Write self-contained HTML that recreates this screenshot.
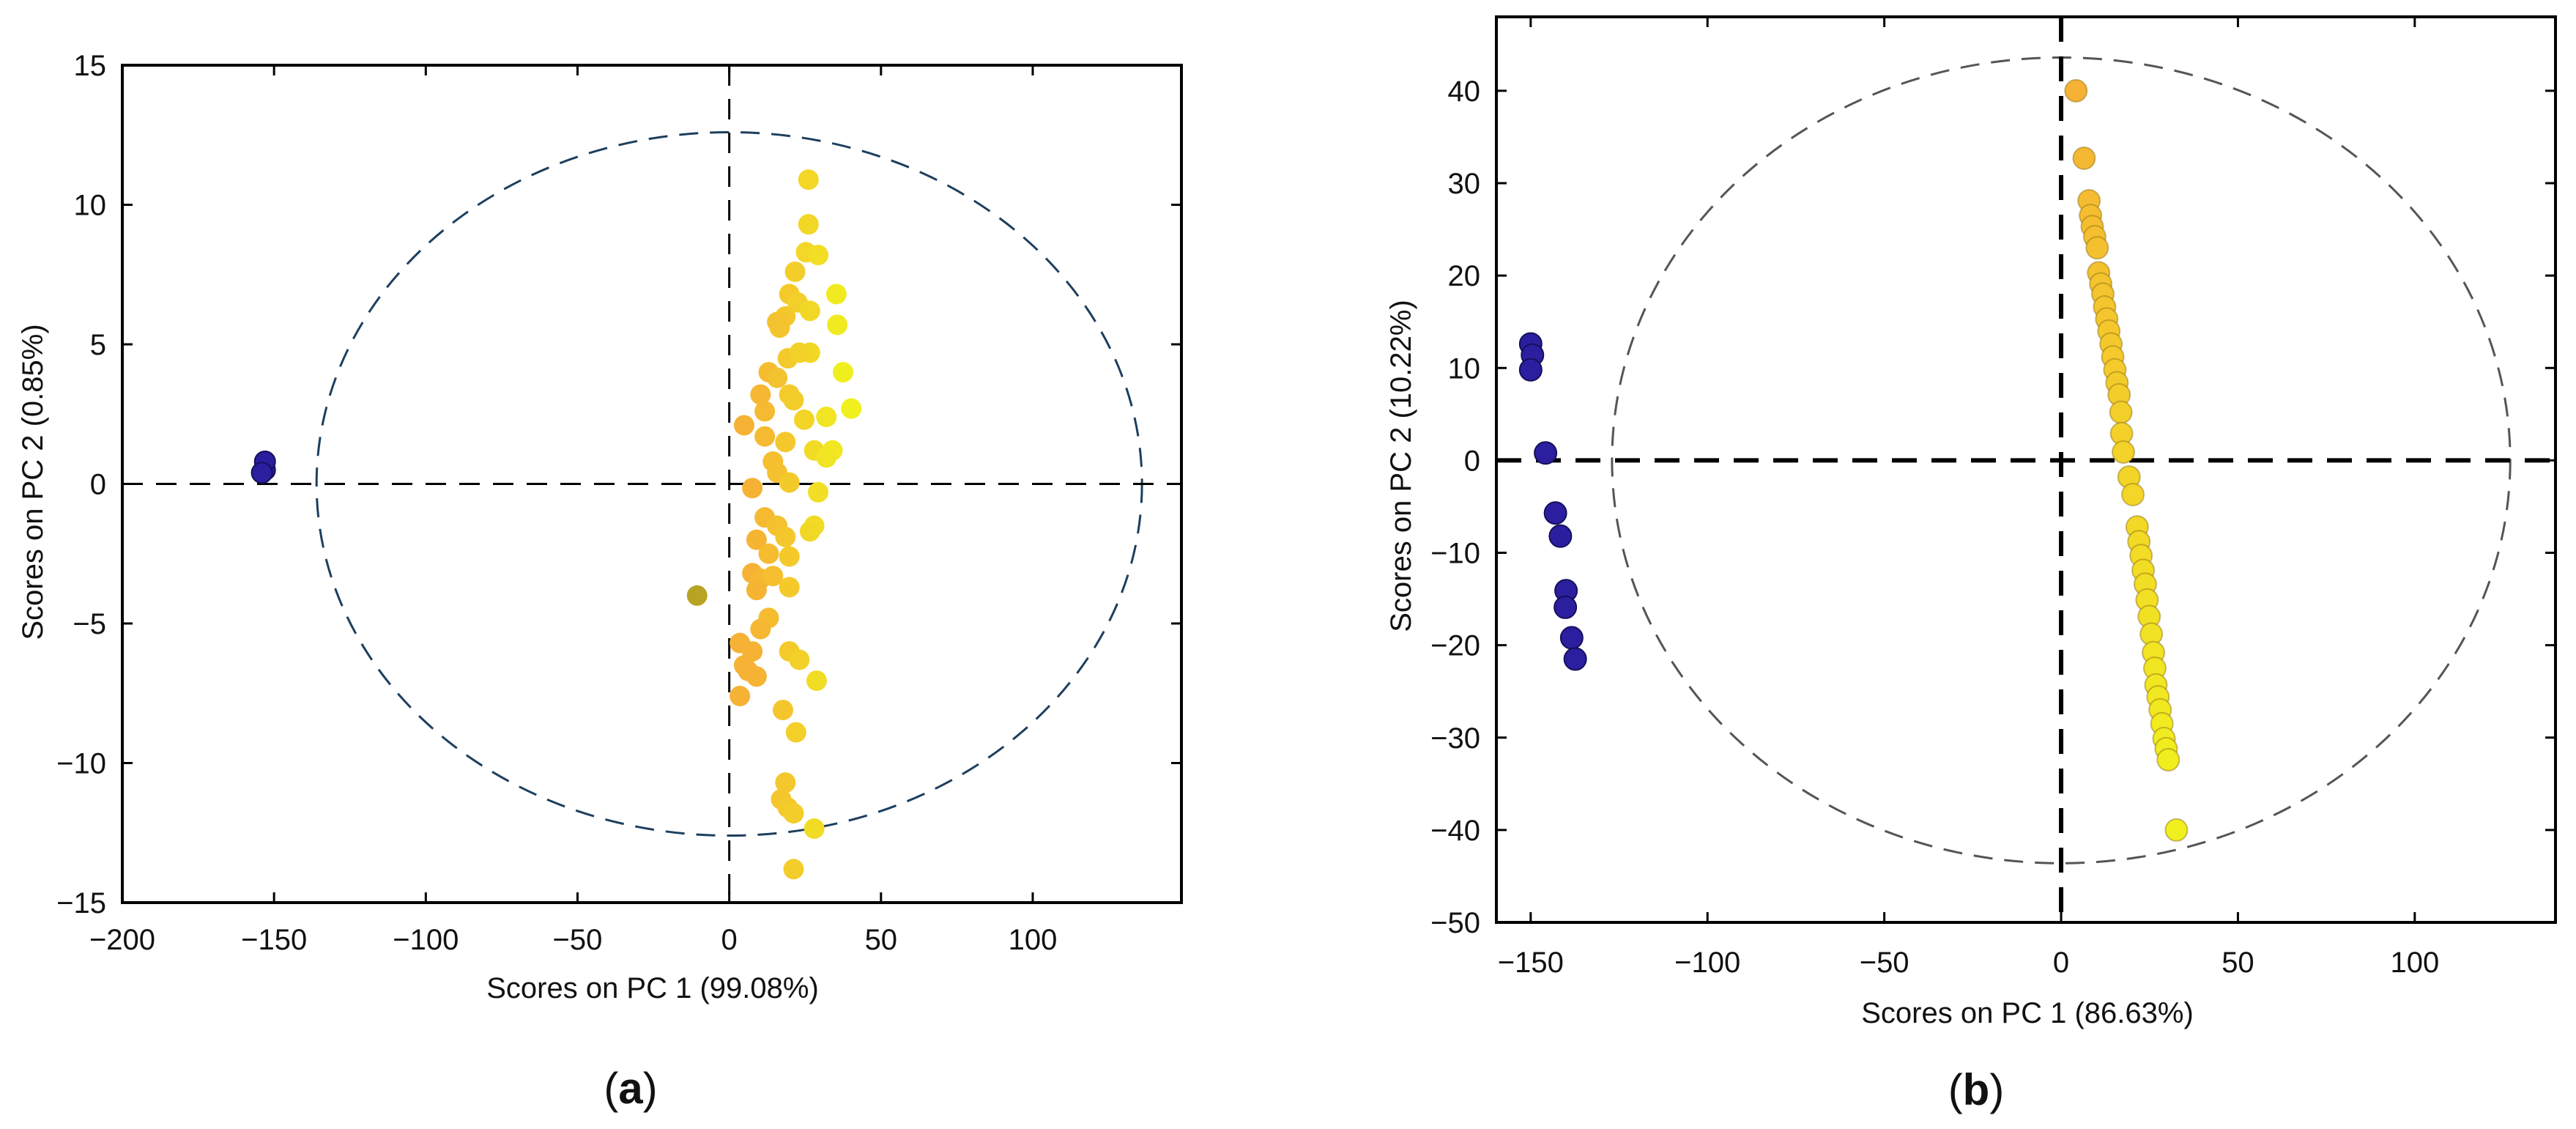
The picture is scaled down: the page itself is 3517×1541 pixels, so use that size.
<!DOCTYPE html>
<html><head><meta charset="utf-8"><style>
html,body{margin:0;padding:0;background:#fff;}
svg{display:block;}
text{font-family:"Liberation Sans",sans-serif;fill:#111;}
</style></head><body>
<svg id="fig" width="3517" height="1541" viewBox="0 0 3517 1541" xmlns="http://www.w3.org/2000/svg">
<g id="pa"></g>
<g id="pb"></g>
</svg>
<script>
// ---- Panel A data ----
const aXTicks = [-200,-150,-100,-50,0,50,100];
const aYTicks = [-15,-10,-5,0,5,10,15];
const aBlueX = [-153,-153,-154];
const aBlueY = [0.5,0.8,0.4];
const aOliveX = [-10.6];
const aOliveY = [-4.0];
const aSampleX = [26.1,26.1,25.3,29.3,21.7,19.8,22.5,18.5,16.6,15.8,26.6,35.3,35.6,26.6,19.3,23.1,13,15.8,37.5,40.2,10.3,19.8,21.2,11.7,24.7,32,4.9,11.7,18.5,14.4,15.8,19.8,7.6,28,34,32,29.3,11.7,15.8,28,26.6,18.5,9,13,19.8,7.6,10.3,14.4,9,19.8,13,10.3,3.5,7.6,4.9,9,6.2,19.8,23.1,28.8,3.5,17.7,22,18.5,17.1,19.3,21.2,28,21.2];
const aSampleY = [10.9,9.3,8.3,8.2,7.6,6.8,6.5,6.0,5.6,5.8,6.2,6.8,5.7,4.7,4.5,4.7,4.0,3.8,4.0,2.7,3.2,3.2,3.0,2.6,2.3,2.4,2.1,1.7,1.5,0.8,0.4,0.05,-0.15,1.2,1.2,0.95,-0.3,-1.2,-1.5,-1.5,-1.7,-1.9,-2.0,-2.5,-2.6,-3.2,-3.4,-3.3,-3.8,-3.7,-4.8,-5.2,-5.7,-6.0,-6.5,-6.9,-6.7,-6.0,-6.3,-7.05,-7.6,-8.1,-8.9,-10.7,-11.3,-11.6,-11.8,-12.35,-13.8];
// ---- Panel B data ----
const bXTicks = [-150,-100,-50,0,50,100];
const bYTicks = [-50,-40,-30,-20,-10,0,10,20,30,40];
const bBlueX = [-150,-149.5,-150,-145.8,-143,-141.6,-140,-140.2,-138.4,-137.4];
const bBlueY = [12.6,11.4,9.8,0.8,-5.7,-8.2,-14.1,-15.9,-19.2,-21.5];
const bSampleX = [4.2,6.5,7.9,8.3,8.8,9.5,10.2,10.6,11.2,11.8,12.3,12.9,13.5,14.1,14.6,15.2,15.8,16.4,16.9,17.1,17.6,19.2,20.3,21.5,22,22.6,23.2,23.8,24.3,24.9,25.5,26.1,26.5,26.8,27.4,28,28.5,29.1,29.7,30.3,32.6];
const bSampleY = [40,32.7,28.1,26.5,25.3,24.2,23,20.3,19.1,18,16.6,15.3,14,12.6,11.2,9.8,8.4,7.1,5.2,2.9,0.9,-1.8,-3.7,-7.2,-8.8,-10.3,-11.9,-13.4,-15.1,-16.9,-18.8,-20.8,-22.5,-24.3,-25.6,-27,-28.5,-30.1,-31.2,-32.4,-40];

const NS="http://www.w3.org/2000/svg";
function mk(parent,tag,attrs,txt){const e=document.createElementNS(NS,tag);for(const k in attrs)e.setAttribute(k,attrs[k]);if(txt!==undefined)e.textContent=txt;parent.appendChild(e);return e;}
function fmt(v){return v<0?"\u2212"+Math.abs(v):String(v);}
function lerpColor(t){t=Math.max(0,Math.min(1,t));const c1=[246,178,52],c2=[240,240,30];return "rgb("+c1.map((v,i)=>Math.round(v+(c2[i]-v)*t)).join(",")+")";}

function drawPanel(g,cfg){
  const X=v=>cfg.x0+(v-cfg.xmin)*(cfg.x1-cfg.x0)/(cfg.xmax-cfg.xmin);
  const Y=v=>cfg.y1-(v-cfg.ymin)*(cfg.y1-cfg.y0)/(cfg.ymax-cfg.ymin);
  const el=mk(g,"ellipse",{cx:X(0),cy:Y(0),rx:X(cfg.erx)-X(0),ry:Y(0)-Y(cfg.ery),fill:"none",stroke:cfg.ecol,"stroke-width":3,"stroke-dasharray":"26 16"});
  
  
  const vl=mk(g,"line",{x1:X(0),x2:X(0),y1:cfg.y0,y2:cfg.y1,stroke:"#000","stroke-width":cfg.cw,"stroke-dasharray":cfg.cd});
  
  
  const hl=mk(g,"line",{x1:cfg.x0,x2:cfg.x1,y1:Y(0),y2:Y(0),stroke:"#000","stroke-width":cfg.cw,"stroke-dasharray":cfg.cd});
  
  
  cfg.samplesX.forEach((x,i)=>{
    const c=mk(g,"circle",{cx:X(x),cy:Y(cfg.samplesY[i]),r:cfg.r,fill:cfg.colorFn(x,cfg.samplesY[i]),stroke:cfg.outline?"rgba(150,120,20,0.5)":"none","stroke-width":2});
    
    
  });
  cfg.blueX.forEach((x,i)=>{
    const c=mk(g,"circle",{cx:X(x),cy:Y(cfg.blueY[i]),r:cfg.r,fill:"#2b1fa0",stroke:"#15105a","stroke-width":2});
    
    
  });
  (cfg.oliveX||[]).forEach((x,i)=>{
    const c=mk(g,"circle",{cx:X(x),cy:Y(cfg.oliveY[i]),r:cfg.r,fill:"#b8a322"});
    
    
  });
  const fr=mk(g,"rect",{x:cfg.x0,y:cfg.y0,width:cfg.x1-cfg.x0,height:cfg.y1-cfg.y0,fill:"none",stroke:"#000","stroke-width":4});
  
  
  cfg.xTicks.forEach(v=>{
    const px=X(v);
    mk(g,"line",{x1:px,x2:px,y1:cfg.y1,y2:cfg.y1-14,stroke:"#000","stroke-width":3});
    mk(g,"line",{x1:px,x2:px,y1:cfg.y0,y2:cfg.y0+14,stroke:"#000","stroke-width":3});
    const t=mk(g,"text",{x:px,y:cfg.xtY,"text-anchor":"middle","font-size":cfg.fs},fmt(v));
    
    
  });
  cfg.yTicks.forEach(v=>{
    const py=Y(v);
    mk(g,"line",{x1:cfg.x0,x2:cfg.x0+14,y1:py,y2:py,stroke:"#000","stroke-width":3});
    mk(g,"line",{x1:cfg.x1,x2:cfg.x1-14,y1:py,y2:py,stroke:"#000","stroke-width":3});
    const t=mk(g,"text",{x:cfg.x0-22,y:py+14,"text-anchor":"end","font-size":cfg.fs},fmt(v));
    
    
  });
  const xt=mk(g,"text",{x:cfg.xtitleX,y:cfg.xtitleY,"text-anchor":"middle","font-size":cfg.fs,fill:"#222"},cfg.xtitle);
  
  
  const yt=mk(g,"text",{x:0,y:0,"text-anchor":"middle","font-size":cfg.fs,fill:"#222",transform:"translate("+cfg.ytitleX+","+cfg.ytitleY+") rotate(-90)"},cfg.ytitle);
  
  
  const cap=mk(g,"text",{x:cfg.capX,y:cfg.capY,"text-anchor":"middle","font-size":60,"font-family":"Liberation Serif, serif"});
  
  
  mk(cap,"tspan",{},"(");
  mk(cap,"tspan",{"font-weight":"bold"},cfg.cap);
  mk(cap,"tspan",{},")");
}

drawPanel(document.getElementById("pa"),{
  x0:167,x1:1613,y0:89,y1:1232,xmin:-200,xmax:149,ymin:-15,ymax:15,
  erx:136,ery:12.6,ecol:"#1d3f5e",cw:3,cd:"28 18",r:14,outline:false,
  samplesX:aSampleX,samplesY:aSampleY,blueX:aBlueX,blueY:aBlueY,oliveX:aOliveX,oliveY:aOliveY,
  colorFn:(x)=>lerpColor((x-8)/30),
  xTicks:aXTicks,yTicks:aYTicks,fs:40,xtY:1296,
  xtitle:"Scores on PC 1 (99.08%)",xtitleX:891,xtitleY:1362,
  ytitle:"Scores on PC 2 (0.85%)",ytitleX:58,ytitleY:658,
  capX:861,capY:1506,cap:"a"
});
drawPanel(document.getElementById("pb"),{
  x0:2043,x1:3489,y0:23,y1:1259,xmin:-159.7,xmax:139.8,ymin:-50,ymax:48,
  erx:127,ery:43.6,ecol:"#555",cw:6,cd:"34 20",r:15,outline:true,
  samplesX:bSampleX,samplesY:bSampleY,blueX:bBlueX,blueY:bBlueY,
  colorFn:(x,y)=>lerpColor((40-y)/75),
  xTicks:bXTicks,yTicks:bYTicks,fs:40,xtY:1327,
  xtitle:"Scores on PC 1 (86.63%)",xtitleX:2768,xtitleY:1396,
  ytitle:"Scores on PC 2 (10.22%)",ytitleX:1926,ytitleY:636,
  capX:2698,capY:1508,cap:"b"
});
</script>
</body></html>
